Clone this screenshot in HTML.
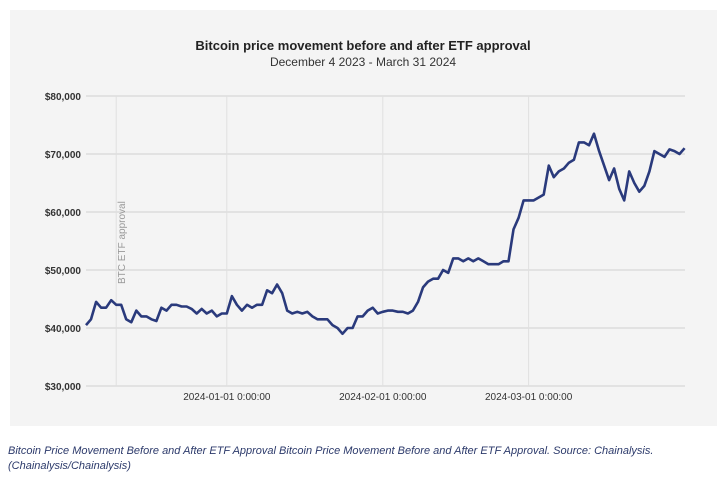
<!DOCTYPE html>
<html><head><meta charset="utf-8"><style>
body{margin:0;width:727px;height:491px;background:#fff;overflow:hidden;font-family:"Liberation Sans",sans-serif}
</style></head><body>
<svg width="727" height="491">
<rect x="10" y="10" width="707" height="416" fill="#f4f4f4"/>
<text x="363" y="50" text-anchor="middle" font-size="13" font-weight="bold" fill="#222">Bitcoin price movement before and after ETF approval</text>
<text x="363" y="66" text-anchor="middle" font-size="12" fill="#333">December 4 2023 - March 31 2024</text>
<g id="grid"></g><g id="axes"></g><g id="series"></g>
<text x="8" y="446" font-size="11" font-style="italic" fill="#2c3a6b"><tspan x="8" y="454">Bitcoin Price Movement Before and After ETF Approval Bitcoin Price Movement Before and After ETF Approval. Source: Chainalysis.</tspan><tspan x="8" y="469">(Chainalysis/Chainalysis)</tspan></text>
</svg>
<script>
const yTicks=[30000,40000,50000,60000,70000,80000];
const xTickDays=[28,59,88];
const xTickLabels=["2024-01-01 0:00:00","2024-02-01 0:00:00","2024-03-01 0:00:00"];
const etfDay=6;
const prices=[40.5,41.5,44.5,43.5,43.5,44.8,44,44,41.5,41,43,42,42,41.5,41.2,43.5,43,44,44,43.7,43.7,43.3,42.5,43.3,42.5,43,42,42.5,42.5,45.5,44,43,44,43.5,44,44,46.5,46,47.5,46,43,42.5,42.8,42.5,42.8,42,41.5,41.5,41.5,40.5,40,39,40,40,42,42,43,43.5,42.5,42.8,43,43,42.8,42.8,42.5,43,44.5,47,48,48.5,48.5,50,49.5,52,52,51.5,52,51.5,52,51.5,51,51,51,51.5,51.5,57,59,62,62,62,62.5,63,68,66,67,67.5,68.5,69,72,72,71.5,73.5,70.5,68,65.5,67.5,64,62,67,65,63.5,64.5,67,70.5,70,69.5,70.8,70.5,70,71];
const NS="http://www.w3.org/2000/svg";
const X=d=>86+d*5.03, Y=v=>96+(80000-v)/10000*58;
const grid=document.getElementById('grid'),axes=document.getElementById('axes'),ser=document.getElementById('series');
function mk(t,a,p){const e=document.createElementNS(NS,t);for(const k in a)e.setAttribute(k,a[k]);p.appendChild(e);return e;}
yTicks.forEach(v=>{
 const l=mk('line',{x1:86,x2:685,y1:Y(v),y2:Y(v),stroke:'#dcdcdc','stroke-width':1.5},grid);
 
 
 const t=mk('text',{x:81,y:Y(v)+4,'text-anchor':'end','font-size':10,'font-weight':'bold',fill:'#333'},axes);
 t.textContent='$'+v.toLocaleString('en-US');
 
 
});
xTickDays.forEach((d,i)=>{
 const l=mk('line',{x1:X(d),x2:X(d),y1:96,y2:386,stroke:'#e0e0e0','stroke-width':1},grid);
 
 
 const t=mk('text',{x:X(d),y:400,'text-anchor':'middle','font-size':10,fill:'#333'},axes);
 t.textContent=xTickLabels[i];
 
 
});
const el=mk('line',{x1:X(etfDay),x2:X(etfDay),y1:96,y2:386,stroke:'#e0e0e0','stroke-width':1},grid);


const et=mk('text',{transform:`translate(${X(etfDay)+9},284) rotate(-90)`,'font-size':10,fill:'#999'},axes);
et.textContent='BTC ETF approval';


const pts=prices.map((p,i)=>X(i).toFixed(1)+','+Y(p*1000).toFixed(1)).join(' ');
const pl=mk('polyline',{points:pts,fill:'none',stroke:'#2a3a7c','stroke-width':2.6,'stroke-linejoin':'round'},ser);


</script>
</body></html>
